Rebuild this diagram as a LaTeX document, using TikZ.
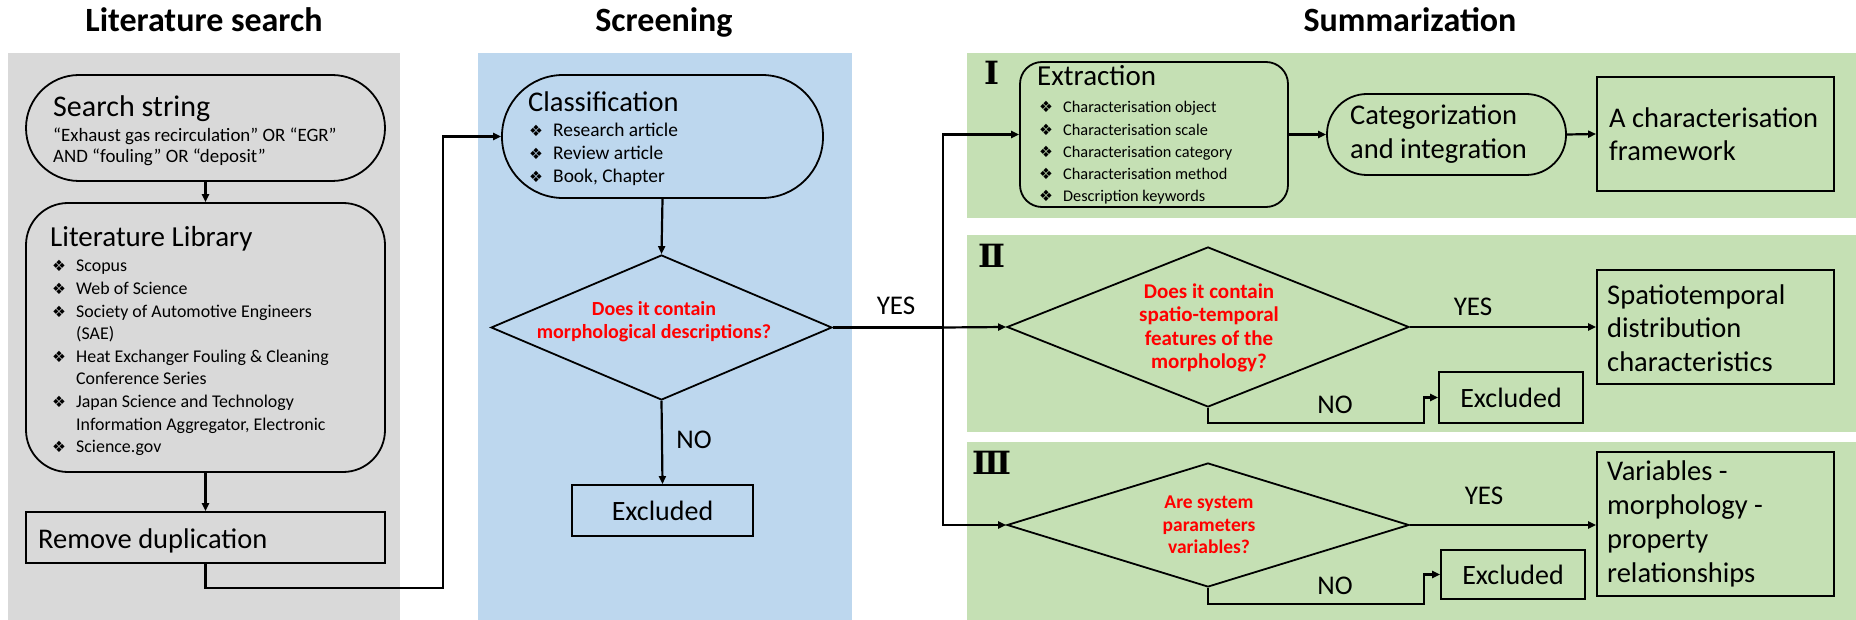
\documentclass[tikz,border=0pt]{standalone}
\usepackage{fontspec}
\usepackage{graphicx}
\setmainfont{Carlito}
\newfontfamily\symfont{DejaVu Sans}
\newfontfamily\romfont{DejaVu Serif}
\usetikzlibrary{arrows.meta,shapes.geometric}
\definecolor{pgray}{HTML}{D9D9D9}
\definecolor{pblue}{HTML}{BDD7EE}
\definecolor{pgreen}{HTML}{C5E0B4}
\definecolor{qred}{HTML}{FF0000}
\newcommand\bul{\makebox[24pt][l]{\symfont\fontsize{15.5}{15}\selectfont ❖}}
\newcommand\ind{\hspace*{24pt}}
\begin{document}
\begin{tikzpicture}[x=1pt,y=-1pt,
  box/.style={draw,line width=1.8pt,rectangle,inner sep=0pt},
  diam/.style={draw,line width=1.8pt,diamond,inner sep=0pt},
  arr/.style={line width=2.2pt,-{Triangle[length=8pt,width=7pt]}},
  ln/.style={line width=2.2pt},
  ttl/.style={font=\fontsize{34}{40}\selectfont\bfseries,anchor=base},
  head/.style={font=\fontsize{28.5}{34}\selectfont,anchor=base west,inner sep=0pt},
  small/.style={font=\fontsize{18}{22.6}\selectfont,anchor=base west,inner sep=0pt},
  big/.style={font=\fontsize{28}{34}\selectfont},
  rtxt/.style={font=\fontsize{28.5}{33.5}\selectfont,align=left,anchor=west,inner sep=0pt},
  qtxt/.style={font=\fontsize{20}{23}\selectfont\bfseries,text=qred,align=center,inner sep=0pt},
  yn/.style={font=\fontsize{27}{32}\selectfont,inner sep=0pt},
  rom/.style={font=\romfont\bfseries\fontsize{32}{32}\selectfont,inner sep=0pt}
]
\useasboundingbox (0,0) rectangle (1856,620);
% panels
\fill[pgray] (8,53) rectangle (400,620);
\fill[pblue] (478,53) rectangle (852,620);
\fill[pgreen] (967,53) rectangle (1856,218);
\fill[pgreen] (967,235) rectangle (1856,432);
\fill[pgreen] (967,442) rectangle (1856,620);
% titles
\node[ttl] (T1) at (204,32) {Literature search};
\node[ttl] (T2) at (664,32) {Screening};
\node[ttl] (T3) at (1410,32) {Summarization};
% literature search column
\node[box,rounded corners=53pt,minimum width=359pt,minimum height=106pt] (search) at (205.5,128) {};
\node[head,font=\fontsize{30}{34}\selectfont] (searchh) at (53,117) {Search string};
\node[small,font=\fontsize{18.9}{21}\selectfont] (searcht) at (53,142) {\begin{tabular}[t]{@{}l@{}}“Exhaust gas recirculation” OR “EGR”\\AND “fouling” OR “deposit”\end{tabular}};
\node[box,rounded corners=42pt,minimum width=359pt,minimum height=269pt] (lib) at (205.5,337.5) {};
\node[head,font=\fontsize{29}{34}\selectfont] (libh) at (50,247) {Literature Library};
\node[small,font=\fontsize{17.9}{22.6}\selectfont] (libt) at (52,272) {\begin{tabular}[t]{@{}l@{}}
\bul Scopus\\
\bul Web of Science\\
\bul Society of Automotive Engineers\\
\ind (SAE)\\
\bul Heat Exchanger Fouling \& Cleaning\\
\ind Conference Series\\
\bul Japan Science and Technology\\
\ind Information Aggregator, Electronic\\
\bul Science.gov\end{tabular}};
\node[box,minimum width=359pt,minimum height=51pt] (rem) at (205.5,537.5) {};
\node[head] (remt) at (38,548) {Remove duplication};
% screening column
\node[box,rounded corners=61pt,minimum width=321pt,minimum height=123pt] (cls) at (662.5,136.5) {};
\node[head] (clsh) at (528,112) {Classification};
\node[small,font=\fontsize{19.4}{23}\selectfont] (clst) at (529,137) {\begin{tabular}[t]{@{}l@{}}
\bul Research article\\
\bul Review article\\
\bul Book, Chapter\end{tabular}};
\node[diam,minimum width=341pt,minimum height=145pt] (d1) at (661.5,327.5) {};
\node[qtxt] (d1t) at (654,322) {Does it contain\\morphological descriptions?};
\node[box,big,minimum width=181pt,minimum height=51pt] (ex1) at (662.5,510.5) {Excluded};
% summarization
\node[rom] (R1) at (991.5,72.5) {Ⅰ};
\node[rom] (R2) at (991.5,256) {Ⅱ};
\node[rom] (R3) at (991.5,463) {Ⅲ};
\node[box,rounded corners=22pt,minimum width=268pt,minimum height=145pt] (ext) at (1154,134.5) {};
\node[head,font=\fontsize{29}{32}\selectfont] (exth) at (1037,86) {Extraction};
\node[small,font=\fontsize{16.3}{22.25}\selectfont] (extt) at (1039,113) {\begin{tabular}[t]{@{}l@{}}
\bul Characterisation object\\
\bul Characterisation scale\\
\bul Characterisation category\\
\bul Characterisation method\\
\bul Description keywords\end{tabular}};
\node[box,rounded corners=40pt,minimum width=239pt,minimum height=81pt] (cat) at (1446.5,134.5) {};
\node[rtxt] (catt) at (1350,134) {Categorization\\and integration};
\node[box,minimum width=237pt,minimum height=114pt] (fw) at (1715.5,134) {};
\node[rtxt] (fwt) at (1609,134) {A characterisation\\framework};
\node[diam,minimum width=402pt,minimum height=160pt] (d2) at (1208,327) {};
\node[qtxt,font=\fontsize{21}{23.3}\selectfont\bfseries] (d2t) at (1209,328) {Does it contain\\spatio-temporal\\features of the\\morphology?};
\node[box,minimum width=237pt,minimum height=114pt] (sp) at (1715.5,327) {};
\node[rtxt] (spt) at (1607,328) {Spatiotemporal\\distribution\\characteristics};
\node[box,big,minimum width=144pt,minimum height=51pt] (ex2) at (1511,397.5) {Excluded};
\node[diam,minimum width=402pt,minimum height=124pt] (d3) at (1208,525) {};
\node[qtxt,font=\fontsize{19.5}{22.5}\selectfont\bfseries] (d3t) at (1209,525) {Are system\\parameters\\variables?};
\node[box,minimum width=237pt,minimum height=144pt] (var) at (1715.5,524) {};
\node[rtxt,font=\fontsize{28.5}{34}\selectfont] (vart) at (1607,524) {Variables -\\morphology -\\property\\relationships};
\node[box,big,minimum width=144pt,minimum height=49pt] (ex3) at (1513,574.5) {Excluded};
% labels
\node[yn] (yes1) at (896,306) {YES};
\node[yn] (no1) at (694,440) {NO};
\node[yn] (yes2) at (1473,307) {YES};
\node[yn] (no2) at (1335,405) {NO};
\node[yn] (yes3) at (1484,496) {YES};
\node[yn] (no3) at (1335,586) {NO};
% connectors
\coordinate (c1) at (443,588);
\coordinate (jn) at (943,327.5);
\coordinate (k2) at (1424,423);
\coordinate (k3) at (1424,604);
\draw[arr] (search.south) -- (lib.north);
\draw[arr] (lib.south) -- (rem.north);
\draw[arr] (rem.south) |- (c1) |- (cls.west);
\draw[arr] (cls.south) -- (d1.north);
\draw[arr] (d1.south) -- (ex1.north);
\draw[ln] (d1.east) -- (jn);
\draw[arr] (jn) |- (ext.west);
\draw[arr] (jn) -- (d2.west);
\draw[arr] (jn) |- (d3.west);
\draw[arr] (ext.east) -- (cat.west);
\draw[arr] (cat.east) -- (fw.west);
\draw[arr] (d2.east) -- (sp.west);
\draw[arr] (d2.south) |- (k2) |- (ex2.west);
\draw[arr] (d3.east) -- (d3.east -| var.west);
\draw[arr] (d3.south) |- (k3) |- (ex3.west);
\end{tikzpicture}
\end{document}
